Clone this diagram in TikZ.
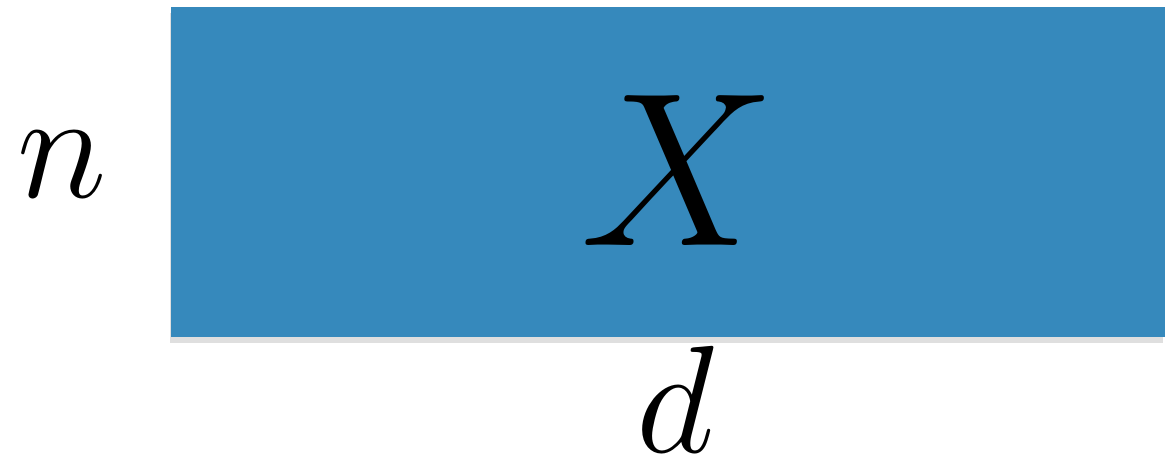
\documentclass[tikz,border=0pt]{standalone}
\usepackage{tikz}
\usetikzlibrary{shadows}

\definecolor{matblue}{RGB}{54,137,188}

\begin{document}
\begin{tikzpicture}[
    x=0.02cm, y=-0.02cm,
    matrixbox/.style={rectangle, fill=matblue, inner sep=0pt, minimum width=19.88cm, minimum height=6.6cm,
        drop shadow={shadow xshift=-0.3mm, shadow yshift=-1.2mm, opacity=0.25, fill=gray}},
    dimlabel/.style={anchor=base, inner sep=0pt, font=\Huge, scale=3.5},
    bigsym/.style={anchor=base, inner sep=0pt, font=\Huge, scale=5.02}
]
    \useasboundingbox (0,0) rectangle (1165,468);

    % data matrix
    \node[matrixbox] (mat) at (668,172) {};
    \node[bigsym] (xlbl) at (678,245) {$X$};

    % dimensions
    \node[dimlabel] (nlbl) at (62,197) {$n$};
    \node[dimlabel] (dlbl) at (675,452) {$d$};
\end{tikzpicture}
\end{document}
